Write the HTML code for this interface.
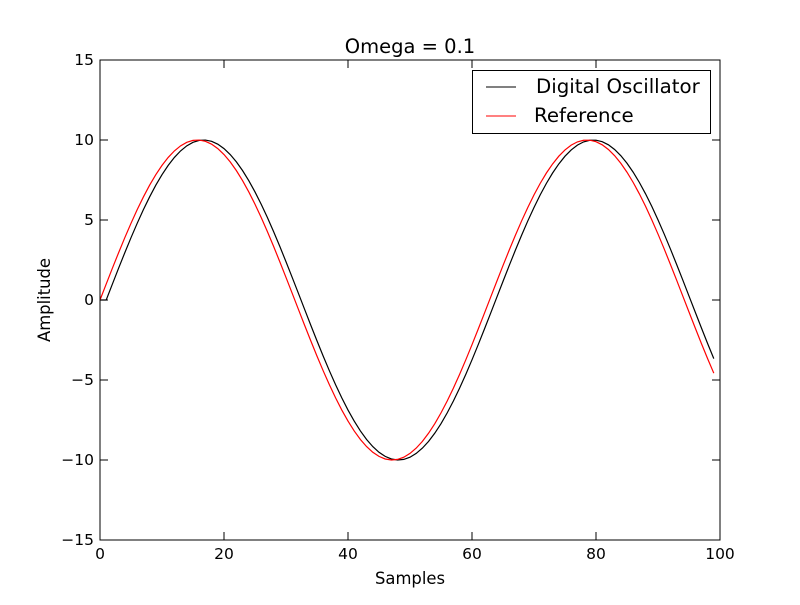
<!DOCTYPE html>
<html><head><meta charset="utf-8"><style>
body{margin:0;background:#fff}
svg text{font-family:"DejaVu Sans","Liberation Sans",sans-serif;fill:#000}
</style></head><body>
<svg id="chart" width="800" height="600" xmlns="http://www.w3.org/2000/svg">
<rect width="800" height="600" fill="#fff"/>
<text x="410" y="53" font-size="19.5" text-anchor="middle">Omega = 0.1</text>
<text x="410" y="584" font-size="16.4" text-anchor="middle">Samples</text>
<text x="50" y="300" font-size="16.4" text-anchor="middle" transform="rotate(-90 50 300)">Amplitude</text>
<g id="ticks"></g>
<g id="series"></g>
<rect x="100" y="60" width="620" height="480" fill="none" stroke="#000" stroke-width="1"/>
<g>
<rect x="472.5" y="70.5" width="238" height="63" fill="#fff" stroke="#000"/>
<line x1="486" y1="87" x2="516" y2="87" stroke="#000"/>
<text x="536" y="93" font-size="19.8">Digital Oscillator</text>
<line x1="486" y1="116" x2="516" y2="116" stroke="#f00"/>
<text x="534" y="122" font-size="19.8">Reference</text>
</g>
</svg>
<script>
const xTicks=[0,20,40,60,80,100];
const yTicks=[-15,-10,-5,0,5,10,15];
const yTickLabels=["\u221215","\u221210","\u22125","0","5","10","15"];
const reference=[0,0.998,1.987,2.955,3.894,4.794,5.646,6.442,7.174,7.833,8.415,8.912,9.320,9.636,9.854,9.975,9.996,9.917,9.738,9.463,9.093,8.632,8.085,7.457,6.755,5.985,5.155,4.274,3.350,2.392,1.411,0.416,-0.584,-1.577,-2.555,-3.508,-4.425,-5.298,-6.119,-6.878,-7.568,-8.183,-8.716,-9.162,-9.516,-9.775,-9.937,-9.999,-9.962,-9.825,-9.589,-9.258,-8.835,-8.323,-7.728,-7.055,-6.313,-5.507,-4.646,-3.739,-2.794,-1.822,-0.831,0.168,1.165,2.151,3.115,4.048,4.941,5.784,6.570,7.290,7.937,8.504,8.987,9.380,9.679,9.882,9.985,9.989,9.894,9.699,9.407,9.022,8.546,7.985,7.344,6.630,5.849,5.010,4.121,3.191,2.229,1.245,0.248,-0.751,-1.743,-2.718,-3.665,-4.575];
const digital=[0,0,0.998,1.987,2.955,3.894,4.794,5.646,6.442,7.174,7.833,8.415,8.912,9.320,9.636,9.854,9.975,9.996,9.917,9.738,9.463,9.093,8.632,8.085,7.457,6.755,5.985,5.155,4.274,3.350,2.392,1.411,0.416,-0.584,-1.577,-2.555,-3.508,-4.425,-5.298,-6.119,-6.878,-7.568,-8.183,-8.716,-9.162,-9.516,-9.775,-9.937,-9.999,-9.962,-9.825,-9.589,-9.258,-8.835,-8.323,-7.728,-7.055,-6.313,-5.507,-4.646,-3.739,-2.794,-1.822,-0.831,0.168,1.165,2.151,3.115,4.048,4.941,5.784,6.570,7.290,7.937,8.504,8.987,9.380,9.679,9.882,9.985,9.989,9.894,9.699,9.407,9.022,8.546,7.985,7.344,6.630,5.849,5.010,4.121,3.191,2.229,1.245,0.248,-0.751,-1.743,-2.718,-3.665];
const NS="http://www.w3.org/2000/svg";
const X=v=>100+v*6.2, Y=v=>300-v*16;
const tg=document.getElementById('ticks'), sg=document.getElementById('series');
function mk(tag,attrs,parent){const e=document.createElementNS(NS,tag);for(const k in attrs)e.setAttribute(k,attrs[k]);parent.appendChild(e);return e;}
xTicks.forEach(v=>{
  const x=X(v);
  const a=mk('line',{x1:x,y1:540,x2:x,y2:532,stroke:'#000'},tg);
  
  
  const b=mk('line',{x1:x,y1:60,x2:x,y2:68,stroke:'#000'},tg);
  
  
  const t=mk('text',{x:x,y:559,'font-size':15.5,'text-anchor':'middle'},tg);
  t.textContent=v;
  
  
});
yTicks.forEach((v,i)=>{
  const y=Y(v);
  const a=mk('line',{x1:100,y1:y,x2:108,y2:y,stroke:'#000'},tg);
  
  
  const b=mk('line',{x1:712,y1:y,x2:720,y2:y,stroke:'#000'},tg);
  
  
  const t=mk('text',{x:94,y:y+5,'font-size':15.5,'text-anchor':'end'},tg);
  t.textContent=yTickLabels[i];
  
  
});
function line(data,color,name){
  const d=data.map((v,i)=>(i?'L':'M')+X(i).toFixed(2)+','+Y(v).toFixed(2)).join('');
  const p=mk('path',{d:d,fill:'none',stroke:color,'stroke-width':1.2},sg);
  
  
}
line(digital,'#000','digital-oscillator-line');
line(reference,'#f00','reference-line');
</script>
</body></html>
